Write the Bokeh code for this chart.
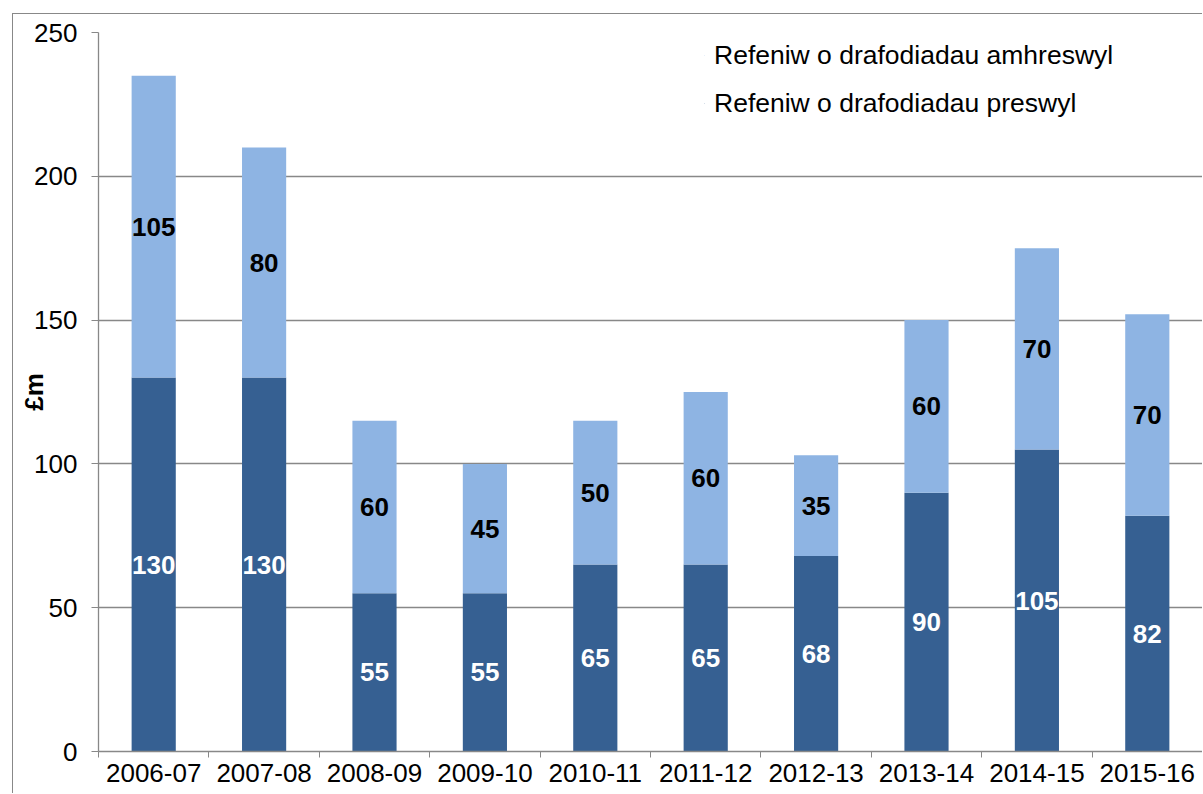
from bokeh.plotting import figure
from bokeh.models import (ColumnDataSource, FixedTicker, Legend, LegendItem,
                          LabelSet)
from bokeh.core.properties import value
from bokeh.embed import file_html
from bokeh.resources import INLINE

years = ["2006-07", "2007-08", "2008-09", "2009-10", "2010-11",
         "2011-12", "2012-13", "2013-14", "2014-15", "2015-16"]
preswyl = [130, 130, 55, 55, 65, 65, 68, 90, 105, 82]
amhreswyl = [105, 80, 60, 45, 50, 60, 35, 60, 70, 70]
y_ticks = [0, 50, 100, 150, 200, 250]
legend_labels = ["Refeniw o drafodiadau amhreswyl", "Refeniw o drafodiadau preswyl"]
y_label = "£m"

DARK = "#366092"
LIGHT = "#8EB4E3"
GRID = "#888888"
FONT = "Liberation Sans"

n = len(years)
xs = [i + 0.5 for i in range(n)]
src = ColumnDataSource(dict(
    x=xs,
    preswyl=preswyl,
    amhreswyl=amhreswyl,
    lab_p=[str(v) for v in preswyl],
    lab_a=[str(v) for v in amhreswyl],
    y_p=[v / 2 for v in preswyl],
    y_a=[pv + av / 2 for pv, av in zip(preswyl, amhreswyl)],
))

p = figure(width=1190, height=780, x_range=(0, n), y_range=(0, 250),
           output_backend="svg", toolbar_location=None,
           min_border_left=85, min_border_right=1,
           min_border_top=18, min_border_bottom=43,
           styles={"margin-left": "12px", "margin-top": "13px",
                   "border-left": "1px solid #888888",
                   "border-top": "1px solid #888888"})
p.outline_line_color = None
p.background_fill_color = "white"
p.border_fill_color = "white"

rs = p.vbar_stack(["preswyl", "amhreswyl"], x="x", width=0.4, source=src,
                  fill_color=[DARK, LIGHT], line_color=None)

# x axis: labels at centres, ticks at category boundaries
xt = FixedTicker(ticks=xs, minor_ticks=list(range(n + 1)))
p.xaxis.ticker = xt
p.xaxis.major_label_overrides = {x: y for x, y in zip(xs, years)}
p.xaxis.major_tick_out = 0
p.xaxis.major_tick_in = 0
p.xaxis.minor_tick_out = 6
p.xaxis.minor_tick_in = 0
p.xaxis.minor_tick_line_color = GRID
p.xaxis.axis_line_color = GRID
p.xaxis.axis_line_width = 1.3
p.xaxis.major_label_standoff = 6
p.xaxis.major_label_text_font = FONT
p.xaxis.major_label_text_font_size = "26px"
p.xaxis.major_label_text_color = "black"
p.xgrid.visible = False

yt = FixedTicker(ticks=y_ticks, minor_ticks=[])
p.yaxis.ticker = yt
p.yaxis.major_tick_out = 7
p.yaxis.major_tick_in = 0
p.yaxis.major_tick_line_color = GRID
p.yaxis.axis_line_color = GRID
p.yaxis.axis_line_width = 1.3
p.yaxis.major_label_standoff = 14
p.yaxis.major_label_text_font = FONT
p.yaxis.major_label_text_font_size = "26px"
p.yaxis.major_label_text_color = "black"
p.yaxis.axis_label = y_label
p.yaxis.axis_label_text_font = FONT
p.yaxis.axis_label_text_font_size = "26px"
p.yaxis.axis_label_text_font_style = "bold"
p.yaxis.axis_label_text_color = "black"
p.yaxis.axis_label_standoff = -18
p.ygrid.ticker = yt
p.ygrid.grid_line_color = GRID
p.ygrid.grid_line_width = 1.3

lab_kw = dict(x="x", source=src, text_align="center", text_baseline="middle",
              text_font=value(FONT), text_font_size="26px",
              text_font_style="bold")
p.add_layout(LabelSet(y="y_p", text="lab_p", text_color="white", **lab_kw))
p.add_layout(LabelSet(y="y_a", text="lab_a", text_color="black", **lab_kw))

legend = Legend(items=[LegendItem(label=legend_labels[0], renderers=[rs[1]]),
                       LegendItem(label=legend_labels[1], renderers=[rs[0]])],
                location="top_right", glyph_width=1, glyph_height=1,
                label_text_font=FONT, label_text_font_size="26.5px",
                label_text_color="black", label_standoff=9, padding=17,
                spacing=17, label_height=30, label_width=480,
                border_line_color=None, background_fill_color="white",
                background_fill_alpha=1.0, margin=8)
p.add_layout(legend)

open("out.html", "w").write(file_html(p, INLINE))
